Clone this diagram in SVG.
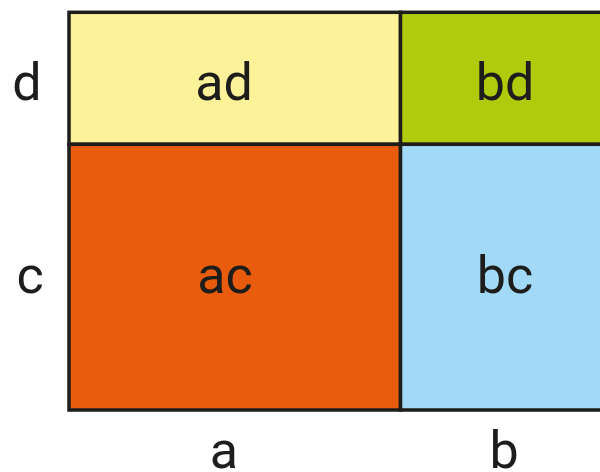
<svg xmlns="http://www.w3.org/2000/svg" width="600" height="472" viewBox="0 0 600 472">
<style>
.cell{stroke:#1d1d1b;stroke-width:3.5}
.t{font-family:Roboto,"Open Sans",sans-serif;font-size:52px;fill:#1d1d1b;text-anchor:middle}
</style>
<rect width="600" height="472" fill="#fff"/>
<g id="ad"><rect class="cell" x="69" y="12.3" width="331.5" height="132" fill="#fdf29a"/><text class="t" x="224" y="100">ad</text></g>
<g id="bd"><rect class="cell" x="400.5" y="12.3" width="202" height="132" fill="#b0cb0b"/><text class="t" x="505" y="100">bd</text></g>
<g id="ac"><rect class="cell" x="69" y="144.3" width="331.5" height="265.7" fill="#e95c0e"/><text class="t" x="225" y="293">ac</text></g>
<g id="bc"><rect class="cell" x="400.5" y="144.3" width="202" height="265.7" fill="#a2d9f7"/><text class="t" x="505" y="293">bc</text></g>
<g id="labels">
<text class="t" x="27" y="100">d</text>
<text class="t" x="30" y="293">c</text>
<text class="t" x="224" y="468">a</text>
<text class="t" x="504" y="468">b</text>
</g>
<g id="connectors"/>
</svg>
